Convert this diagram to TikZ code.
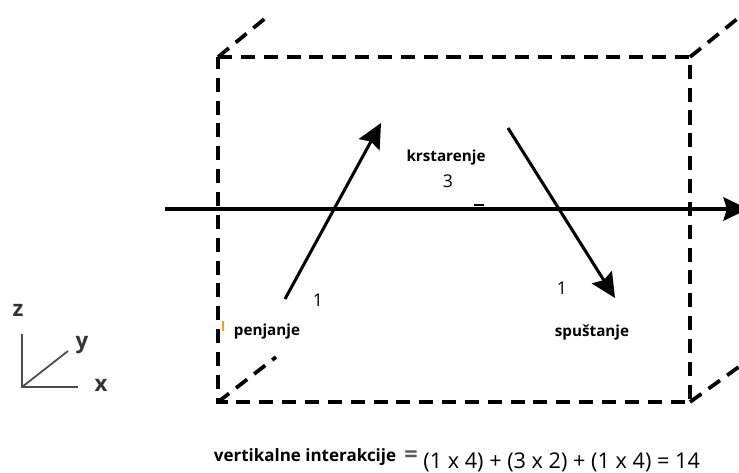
\documentclass[tikz,border=0pt]{standalone}
\usepackage{fontspec}
\setmainfont{Open Sans}
\usetikzlibrary{arrows.meta,positioning}

\begin{document}
\begin{tikzpicture}[
    x=0.03cm, y=-0.03cm,
    edge/.style={line width=3.2pt, dash pattern=on 12pt off 7.5pt},
    arr/.style={-{Stealth[length=21pt,width=20pt,inset=3pt]}, line width=2.6pt},
    lbl/.style={font=\bfseries\fontsize{13}{15}\selectfont, inner sep=1pt},
    num/.style={font=\fontsize{15}{17}\selectfont, inner sep=1pt},
    axis/.style={line width=1.5pt, draw=black!70},
    axlbl/.style={font=\bfseries\fontsize{19}{21}\selectfont, text=black!80, inner sep=1pt}
  ]
    \useasboundingbox (0,0) rectangle (739,472);

    % front face and the edges going back
    \coordinate (ftl) at (218,57);
    \coordinate (ftr) at (690,57);
    \coordinate (fbl) at (218,402);
    \coordinate (fbr) at (690,402);
    \coordinate (btl) at (268,16);
    \coordinate (btr) at (742,15);
    \coordinate (bbl) at (276,357);
    \coordinate (bbr) at (740,366);
    \draw[edge] (ftl) -- (ftr) -- (fbr) -- (fbl) -- cycle;
    \draw[edge] (ftl) -- (btl);
    \draw[edge] (ftr) -- (btr);
    \draw[edge] (fbl) -- (bbl);
    \draw[edge] (fbr) -- (bbr);

    % flight path
    \coordinate (start) at (165,209);
    \coordinate (goal)  at (748,209);
    \draw[arr] (start) -- (goal);
    \coordinate (tick1) at (474,205);
    \coordinate (tick2) at (484,205);
    \draw[line width=1.5pt] (tick1) -- (tick2);

    \coordinate (climbA) at (285,299);
    \coordinate (climbB) at (381,123);
    \draw[arr] (climbA) -- (climbB);
    \coordinate (descA) at (508,128);
    \coordinate (descB) at (615,298);
    \draw[arr] (descA) -- (descB);

    % phase labels
    \node[lbl] (cruise)  at (446,158) {krstarenje};
    \node[num] (cruiseN) at (448,181) {3};
    \node[lbl] (climb)   at (267,332) {penjanje};
    \node[num] (climbN)  at (318,300) {1};
    \node[lbl] (desc)    at (592,332) {spuštanje};
    \node[num] (descN)   at (562,288) {1};
    \coordinate (mark1) at (223,321);
    \coordinate (mark2) at (223,331);
    \draw[orange!80, line width=1pt] (mark1) -- (mark2);

    % axes
    \coordinate (orig) at (22,387);
    \coordinate (zend) at (22,334);
    \coordinate (xend) at (78,387);
    \coordinate (yend) at (68,351);
    \draw[axis] (zend) -- (orig) -- (xend);
    \draw[axis] (orig) -- (yend);
    \node[axlbl] (zlab) at (18,310) {z};
    \node[axlbl] (ylab) at (82,345) {y};
    \node[axlbl] (xlab) at (101,385) {x};

    % total
    \node[font=\bfseries\fontsize{14.5}{16}\selectfont, inner sep=1pt] (vi) at (305,457) {vertikalne interakcije};
    \node[font=\bfseries\fontsize{20}{22}\selectfont, text=black!65, inner sep=1pt] (eq) at (411,457) {=};
    \node[font=\fontsize{18.5}{20}\selectfont, inner sep=1pt, anchor=west] (sum) at (422,462) {(1 x 4) + (3 x 2) + (1 x 4) = 14};
\end{tikzpicture}
\end{document}
